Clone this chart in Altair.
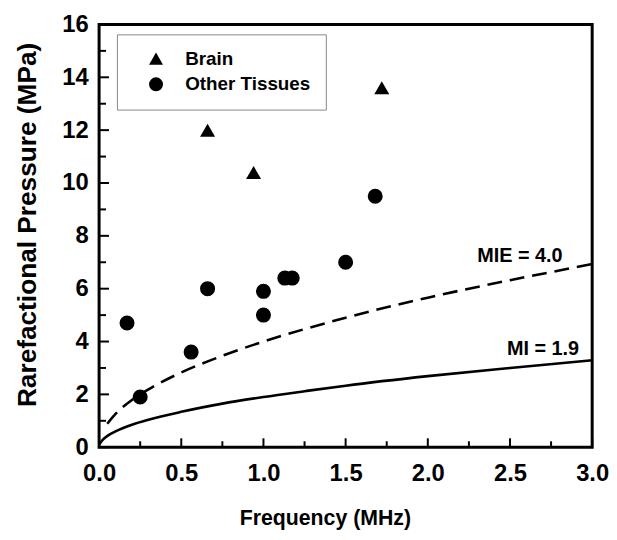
import altair as alt
import pandas as pd

# ---- data ----
brain_freq = [0.66, 0.94, 1.72]
brain_press = [12.0, 10.4, 13.6]

other_freq = [0.17, 0.25, 0.56, 0.66, 1.0, 1.0, 1.13, 1.175, 1.5, 1.68]
other_press = [4.7, 1.9, 3.6, 6.0, 5.9, 5.0, 6.4, 6.4, 7.0, 9.5]

mi_freq = [0.0, 0.01, 0.03, 0.06, 0.1, 0.2, 0.3, 0.5, 0.75, 1.0, 1.25, 1.5, 2.0, 2.5, 3.0]
mi_press = [0.1, 0.19, 0.33, 0.47, 0.6, 0.85, 1.04, 1.34, 1.65, 1.9, 2.12, 2.33, 2.69, 3.0, 3.29]

mie_freq = [0.05, 0.1, 0.2, 0.3, 0.5, 0.75, 1.0, 1.25, 1.5, 2.0, 2.5, 3.0]
mie_press = [0.89, 1.26, 1.79, 2.19, 2.83, 3.46, 4.0, 4.47, 4.9, 5.66, 6.32, 6.93]

curve_labels = ["MIE = 4.0", "MI = 1.9"]
label_freq = [2.82, 2.92]
label_press = [7.0, 3.48]

x_major = [0.0, 0.5, 1.0, 1.5, 2.0, 2.5, 3.0]
x_minor = [0.25, 0.75, 1.25, 1.75, 2.25, 2.75]
y_major = [0, 2, 4, 6, 8, 10, 12, 14, 16]
y_minor = [1, 3, 5, 7, 9, 11, 13, 15]

groups = ["Brain", "Other Tissues"]

# ---- tables ----
pts = pd.DataFrame({
    "freq": brain_freq + other_freq,
    "press": brain_press + other_press,
    "group": [groups[0]] * len(brain_freq) + [groups[1]] * len(other_freq),
})
mi_df = pd.DataFrame({"freq": mi_freq, "press": mi_press})
mie_df = pd.DataFrame({"freq": mie_freq, "press": mie_press})
lab_df = pd.DataFrame({"freq": label_freq, "press": label_press, "text": curve_labels})

FONT = "Liberation Sans"
W, H = 498, 427

xs = alt.Scale(domain=[0, 3], nice=False, zero=False)
ys = alt.Scale(domain=[0, 16], nice=False, zero=False)

x_axis = alt.Axis(
    values=x_major, format=".1f", ticks=False, tickSize=0, domain=False, grid=False,
    labelFlush=False,
    labelFont=FONT, labelFontSize=24, labelFontWeight="bold", labelColor="black",
    labelPadding=15,
    title="Frequency (MHz)", titleFont=FONT, titleFontSize=21.5, titleFontWeight="bold",
    titleColor="black", titleX=228, titleY=78, titleAlign="center", titleBaseline="alphabetic",
)
y_axis = alt.Axis(
    values=y_major, format="d", ticks=False, tickSize=0, domain=False, grid=False,
    labelFlush=False,
    labelFont=FONT, labelFontSize=24, labelFontWeight="bold", labelColor="black",
    labelPadding=11,
    title="Rarefactional Pressure (MPa)", titleFont=FONT, titleFontSize=26.5,
    titleFontWeight="bold", titleColor="black", titleAngle=270, titleX=-64, titleY=202,
    titleAlign="center", titleBaseline="alphabetic",
)

frame = alt.Chart(pd.DataFrame({"f": [0]})).mark_rect(
    fill="white", stroke="black", strokeWidth=3
).encode(x=alt.value(0), x2=alt.value(W), y=alt.value(0), y2=alt.value(H))

mi_line = alt.Chart(mi_df).mark_line(color="black", strokeWidth=2.6, interpolate="monotone").encode(
    x=alt.X("freq:Q", scale=xs, axis=x_axis),
    y=alt.Y("press:Q", scale=ys, axis=y_axis),
)
mie_line = alt.Chart(mie_df).mark_line(
    color="black", strokeWidth=2.6, strokeDash=[15, 8], interpolate="monotone"
).encode(
    x=alt.X("freq:Q", scale=xs),
    y=alt.Y("press:Q", scale=ys),
)

points = alt.Chart(pts).mark_point(filled=True, color="black", opacity=1, size=230).encode(
    x=alt.X("freq:Q", scale=xs),
    y=alt.Y("press:Q", scale=ys),
    shape=alt.Shape(
        "group:N",
        scale=alt.Scale(domain=groups, range=["triangle-up", "circle"]),
        legend=alt.Legend(
            title=None, orient="none", legendX=18, legendY=10,
            strokeColor="#888888", fillColor="white", padding=15, cornerRadius=0,
            labelFont=FONT, labelFontSize=19, labelFontWeight="bold", labelColor="black",
            symbolSize=200, symbolFillColor="black", symbolStrokeWidth=0,
            symbolOffset=15, labelOffset=20, rowPadding=6,
        ),
    ),
)

labels = alt.Chart(lab_df).mark_text(
    font=FONT, fontSize=20, fontWeight="bold", color="black", align="right", baseline="alphabetic"
).encode(
    x=alt.X("freq:Q", scale=xs),
    y=alt.Y("press:Q", scale=ys),
    text="text:N",
)

def xticks(vals, length):
    return alt.Chart(pd.DataFrame({"v": vals})).mark_rule(color="black", strokeWidth=2).encode(
        x=alt.X("v:Q", scale=xs), y=alt.value(H), y2=alt.value(H - length)
    )

def yticks(vals, length):
    return alt.Chart(pd.DataFrame({"v": vals})).mark_rule(color="black", strokeWidth=2).encode(
        y=alt.Y("v:Q", scale=ys), x=alt.value(0), x2=alt.value(length)
    )

chart = alt.layer(
    frame, mi_line, mie_line,
    xticks(x_major, 9), xticks(x_minor, 6), yticks(y_major, 10), yticks(y_minor, 7),
    points, labels,
).properties(
    width=W, height=H,
    autosize=alt.AutoSizeParams(type="none"),
    padding={"left": 92, "top": 14, "right": 17, "bottom": 82},
    background="white",
).configure_view(stroke=None)

chart.save("out.html", embed_options={"renderer": "svg", "actions": False})
